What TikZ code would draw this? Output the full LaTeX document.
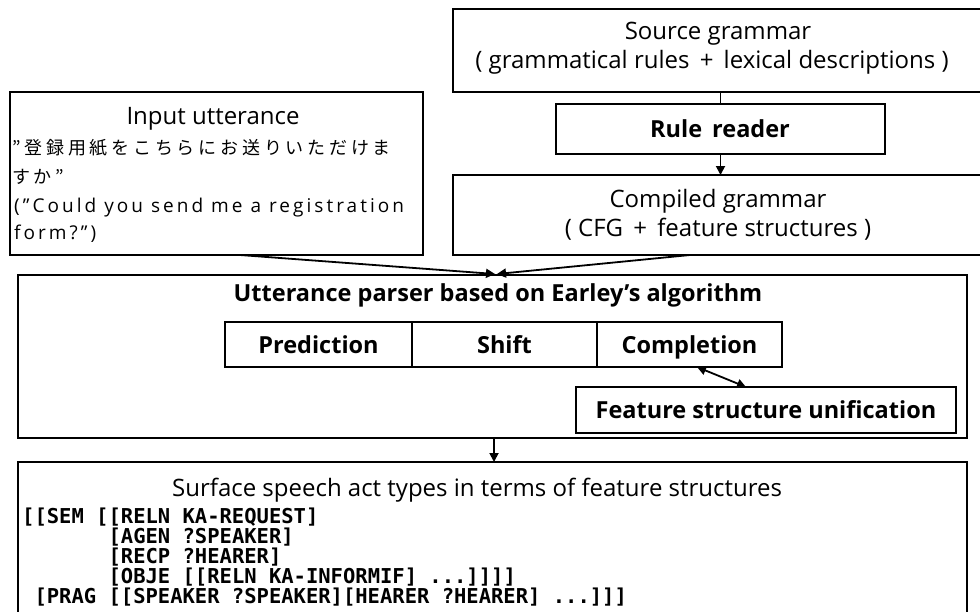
\documentclass[tikz,border=0pt]{standalone}
\usepackage{fontspec}
\setmainfont{Open Sans}
\newfontfamily\jpfont{Noto Sans CJK JP}
\newfontfamily\fsfont{DejaVu Sans Mono}
\usetikzlibrary{arrows.meta}
\begin{document}
\begin{tikzpicture}[x=1pt,y=-1pt,
  frame/.style={draw,line width=1.8pt,inner sep=0pt,outer sep=0pt,anchor=north west},
  txt/.style={inner sep=0pt,text height=17pt,text depth=0pt,font=\fontsize{24}{26}\selectfont},
  btxt/.style={inner sep=0pt,text height=17pt,text depth=0pt,font=\fontsize{23.5}{26}\selectfont\bfseries},
  link/.style={line width=1.8pt},
  arr/.style={line width=1.8pt,-{Triangle[length=9pt,width=9pt]}},
  dblarr/.style={line width=1.8pt,{Triangle[length=9pt,width=9pt]}-{Triangle[length=9pt,width=9pt]}},
  fsline/.style={inner sep=0pt,anchor=west,font=\fontsize{20.5}{20}\fsfont\bfseries},
  inline/.style={inner sep=0pt,anchor=west,text height=14pt,text depth=0pt,font=\fontsize{19}{22}\selectfont\addfontfeature{LetterSpace=16}},
  jpline/.style={inner sep=0pt,anchor=west,font=\fontsize{18}{20}\jpfont\addfontfeature{LetterSpace=21}}
]
\useasboundingbox (0,0) rectangle (980,611);
\begin{scope}
\clip (0,0) rectangle (980,611);

% grammar side
\node[frame,minimum width=540pt,minimum height=83pt] (src) at (453,9) {};
\node[txt] (srcT1) at (718,31) {Source grammar};
\node[txt] (srcT2) at (712,60) {( grammatical rules \,+\, lexical descriptions )};

\node[frame,minimum width=329pt,minimum height=50pt] (rr) at (556,104) {};
\node[btxt] (rrT) at (720,129) {Rule\, reader};

\node[frame,minimum width=540pt,minimum height=80pt] (comp) at (453,175) {};
\node[txt] (compT1) at (718,199) {Compiled grammar};
\node[txt] (compT2) at (718,228) {( CFG \,+\, feature structures )};

\draw[link] (rr.north) -- (rr.north |- src.south);
\draw[arr] (rr.south) -- (rr.south |- comp.north);

% input utterance
\node[frame,minimum width=413pt,minimum height=163pt] (inp) at (10,92) {};
\node[txt] (inpT) at (213,116) {Input utterance};
\node[jpline] (inpJ1) at (12,148) {”登録用紙をこちらにお送りいただけま};
\node[jpline] (inpJ2) at (12,177) {すか”};
\node[inline] (inpE1) at (14,205) {(”Could you send me a registration};
\node[inline] (inpE2) at (14,232) {form?”)};

% parser
\node[frame,minimum width=949pt,minimum height=163pt] (parser) at (18,275) {};
\node[btxt] (parserT) at (498,293) {Utterance parser based on Earley’s algorithm};

\node[frame,minimum width=187pt,minimum height=45pt] (pred) at (225,322) {};
\node[frame,minimum width=185pt,minimum height=45pt] (shift) at (412,322) {};
\node[frame,minimum width=185pt,minimum height=45pt] (compl) at (597,322) {};
\node[btxt] (predT) at (pred.center) {Prediction};
\node[btxt] (shiftT) at (shift.center) {Shift};
\node[btxt] (complT) at (compl.center) {Completion};

\node[frame,minimum width=380pt,minimum height=46pt] (unif) at (576,387) {};
\node[btxt] (unifT) at (unif.center) {Feature structure unification};

\coordinate (complLink) at (697,367);
\coordinate (unifLink) at (746,387);
\draw[dblarr] (complLink) -- (unifLink);

% connectors into the parser
\coordinate (inpOut) at (240,255);
\coordinate (compOut) at (690,255);
\coordinate (meetL) at (495,274);
\coordinate (meetR) at (497,274);
\draw[arr] (inpOut) -- (meetL);
\draw[arr] (compOut) -- (meetR);

% result
\node[frame,minimum width=949pt,minimum height=200pt] (surf) at (18,462) {};
\draw[arr] (parser.south -| 494,0) -- (surf.north -| 494,0);
\node[txt,anchor=west] (surfT) at (172,488) {Surface speech act types in terms of feature structures};

\node[fsline] (fs1) at (22,517) {[[SEM [[RELN KA-REQUEST]};
\node[fsline] (fs2) at (22,537) {\phantom{[[SEM [}[AGEN ?SPEAKER]};
\node[fsline] (fs3) at (22,557) {\phantom{[[SEM [}[RECP ?HEARER]};
\node[fsline] (fs4) at (22,577) {\phantom{[[SEM [}[OBJE [[RELN KA-INFORMIF] ...]]]]};
\node[fsline] (fs5) at (22,597) {\phantom{[}[PRAG [[SPEAKER ?SPEAKER][HEARER ?HEARER] ...]]]};
\end{scope}
\end{tikzpicture}
\end{document}
